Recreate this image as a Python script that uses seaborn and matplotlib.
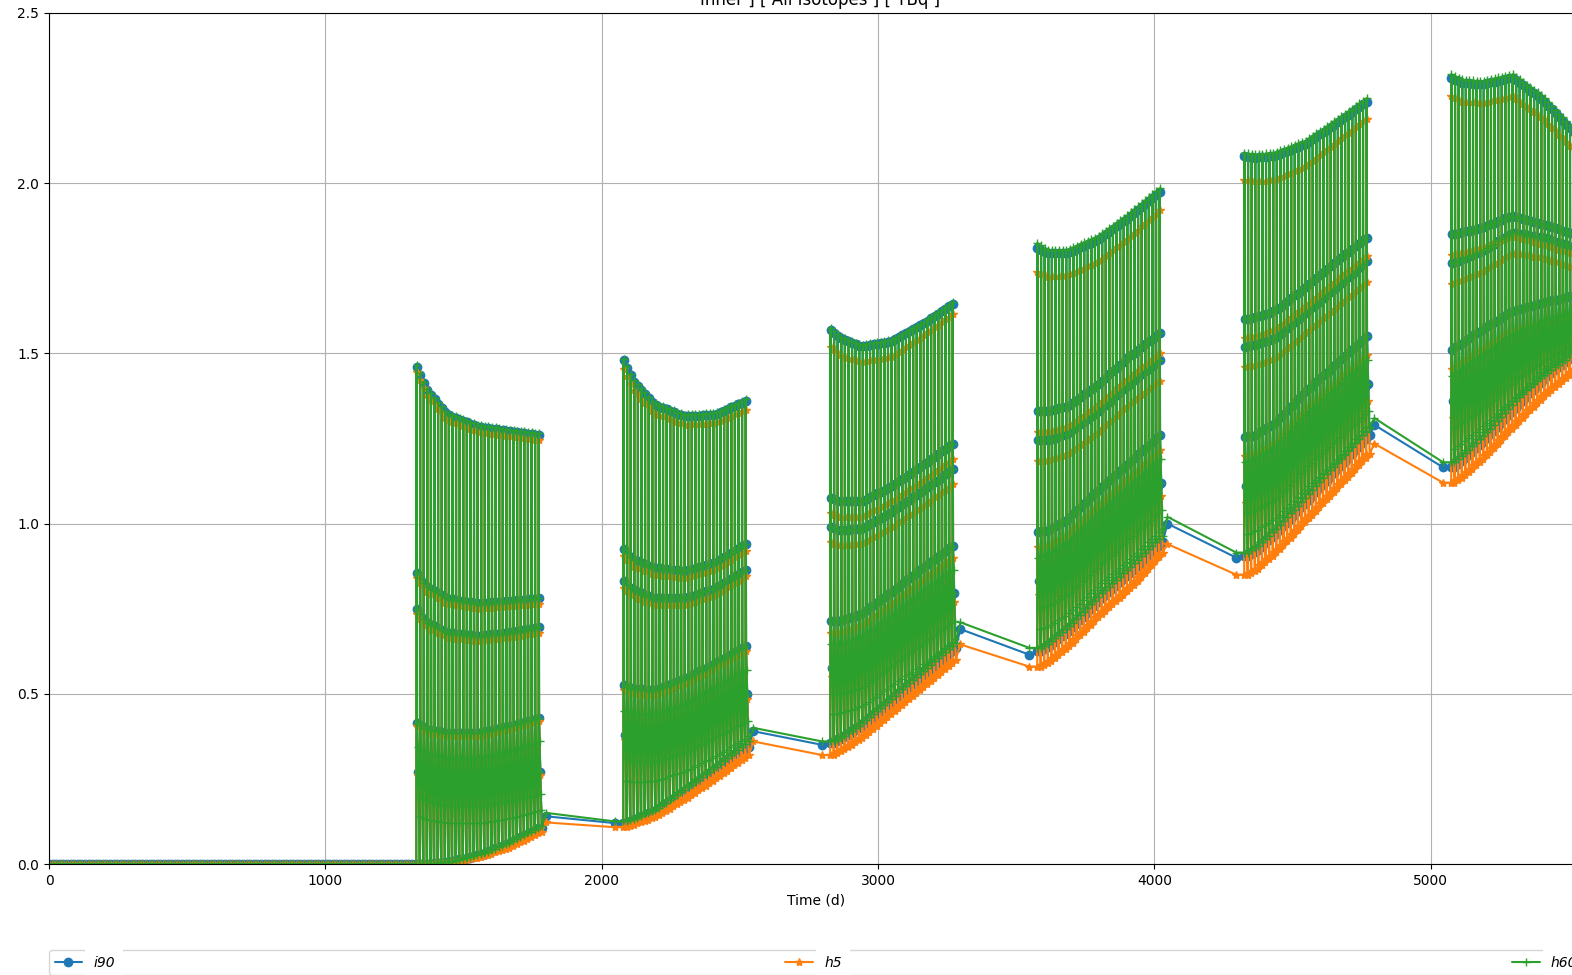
import numpy as np
import pandas as pd
import matplotlib
matplotlib.use("Agg")
import matplotlib.pyplot as plt
import seaborn as sns

# ---------------------------------------------------------------- data
series_names = ["i90", "h5", "h60"]
series_colors = ["#1f77b4", "#ff7f0e", "#2ca02c"]
series_markers = ["o", "*", "+"]

# quiet period before the first campaign: sampled every 13 d, all zero
quiet_days = list(range(0, 1320, 13))

# start day of each irradiation campaign
campaign_start = [1330, 2079, 2828, 3577, 4326, 5075]
pulses_per_campaign = 35
pulse_period = 13  # d
# day offsets inside one pulse: trough, peak, decay steps, trough
coarse_offsets = [-1, 0, 0.5, 1, 1.5, 6, 11]
fine_offsets = [-1, 0, 0.5, 1, 1.5, 3.5, 5.5, 7.5, 9.5, 11]
# fraction of a campaign at which the envelope values below are given
knot_pos = [0.0, 0.08, 0.25, 0.5, 0.75, 1.0]

# i90 envelopes, one row per campaign
i90_peak = [[1.46, 1.395, 1.32, 1.285, 1.272, 1.26],
            [1.48, 1.42, 1.35, 1.315, 1.32, 1.36],
            [1.57, 1.545, 1.52, 1.535, 1.585, 1.645],
            [1.81, 1.795, 1.795, 1.835, 1.90, 1.975],
            [2.08, 2.075, 2.08, 2.115, 2.175, 2.24],
            [2.31, 2.295, 2.29, 2.31, 2.245, 2.15]]
i90_step1 = [[0.855, 0.815, 0.78, 0.765, 0.772, 0.78],
             [0.925, 0.895, 0.87, 0.86, 0.885, 0.94],
             [1.075, 1.065, 1.065, 1.11, 1.17, 1.235],
             [1.33, 1.33, 1.345, 1.41, 1.49, 1.56],
             [1.60, 1.605, 1.625, 1.695, 1.77, 1.84],
             [1.85, 1.855, 1.87, 1.905, 1.88, 1.85]]
i90_step2 = [[0.75, 0.71, 0.68, 0.67, 0.68, 0.695],
             [0.83, 0.805, 0.78, 0.78, 0.81, 0.865],
             [0.99, 0.98, 0.985, 1.035, 1.095, 1.16],
             [1.245, 1.245, 1.265, 1.33, 1.41, 1.48],
             [1.52, 1.525, 1.545, 1.62, 1.695, 1.77],
             [1.765, 1.775, 1.80, 1.855, 1.84, 1.81]]
i90_step3 = [[0.415, 0.395, 0.385, 0.385, 0.405, 0.43],
             [0.525, 0.515, 0.51, 0.545, 0.59, 0.64],
             [0.715, 0.715, 0.735, 0.80, 0.87, 0.935],
             [0.975, 0.98, 1.015, 1.10, 1.18, 1.26],
             [1.255, 1.26, 1.295, 1.39, 1.47, 1.55],
             [1.51, 1.53, 1.57, 1.625, 1.65, 1.67]]
i90_step4 = [[0.27, 0.25, 0.235, 0.235, 0.25, 0.27],
             [0.38, 0.37, 0.37, 0.40, 0.45, 0.50],
             [0.575, 0.575, 0.595, 0.66, 0.73, 0.795],
             [0.83, 0.84, 0.875, 0.96, 1.04, 1.12],
             [1.11, 1.12, 1.155, 1.25, 1.33, 1.41],
             [1.36, 1.38, 1.42, 1.49, 1.54, 1.58]]
i90_trough = [[0.0, 0.0, 0.005, 0.025, 0.06, 0.105],
              [0.12, 0.13, 0.155, 0.215, 0.28, 0.345],
              [0.355, 0.37, 0.41, 0.485, 0.56, 0.635],
              [0.625, 0.64, 0.69, 0.78, 0.86, 0.945],
              [0.905, 0.92, 0.975, 1.07, 1.165, 1.26],
              [1.165, 1.19, 1.245, 1.34, 1.43, 1.50]]

# h5 envelopes
h5_peak = [[1.445, 1.38, 1.305, 1.27, 1.257, 1.245],
           [1.455, 1.395, 1.325, 1.29, 1.295, 1.335],
           [1.52, 1.495, 1.475, 1.49, 1.55, 1.615],
           [1.74, 1.725, 1.73, 1.77, 1.84, 1.92],
           [2.01, 2.005, 2.01, 2.05, 2.12, 2.19],
           [2.255, 2.24, 2.235, 2.255, 2.19, 2.10]]
h5_step1 = [[0.84, 0.80, 0.765, 0.75, 0.757, 0.765],
            [0.905, 0.875, 0.85, 0.84, 0.865, 0.92],
            [1.03, 1.02, 1.02, 1.065, 1.125, 1.19],
            [1.27, 1.27, 1.285, 1.35, 1.43, 1.50],
            [1.545, 1.55, 1.57, 1.64, 1.715, 1.785],
            [1.79, 1.795, 1.81, 1.845, 1.82, 1.79]]
h5_step2 = [[0.735, 0.695, 0.665, 0.655, 0.665, 0.68],
            [0.81, 0.785, 0.76, 0.76, 0.79, 0.845],
            [0.945, 0.935, 0.94, 0.99, 1.05, 1.115],
            [1.185, 1.185, 1.205, 1.27, 1.35, 1.42],
            [1.46, 1.465, 1.485, 1.56, 1.635, 1.71],
            [1.705, 1.715, 1.74, 1.795, 1.78, 1.75]]
h5_step3 = [[0.405, 0.385, 0.375, 0.375, 0.395, 0.42],
            [0.51, 0.50, 0.495, 0.53, 0.575, 0.625],
            [0.68, 0.68, 0.70, 0.765, 0.835, 0.90],
            [0.93, 0.935, 0.97, 1.055, 1.135, 1.215],
            [1.20, 1.205, 1.24, 1.335, 1.415, 1.495],
            [1.455, 1.475, 1.515, 1.57, 1.595, 1.615]]
h5_step4 = [[0.26, 0.24, 0.225, 0.225, 0.24, 0.26],
            [0.365, 0.355, 0.355, 0.385, 0.435, 0.485],
            [0.55, 0.55, 0.57, 0.635, 0.705, 0.77],
            [0.79, 0.80, 0.835, 0.92, 1.00, 1.08],
            [1.06, 1.07, 1.105, 1.20, 1.28, 1.36],
            [1.31, 1.33, 1.37, 1.44, 1.49, 1.53]]
h5_trough = [[0.0, 0.0, 0.004, 0.02, 0.05, 0.095],
             [0.108, 0.118, 0.14, 0.195, 0.255, 0.32],
             [0.32, 0.335, 0.375, 0.45, 0.525, 0.60],
             [0.58, 0.595, 0.645, 0.735, 0.815, 0.915],
             [0.85, 0.865, 0.92, 1.015, 1.11, 1.205],
             [1.12, 1.14, 1.195, 1.29, 1.38, 1.455]]

# h60 envelopes: upper decay steps coincide with i90, lower ones are finer
h60_peak = [[1.465, 1.40, 1.325, 1.29, 1.277, 1.265],
            [1.485, 1.425, 1.355, 1.32, 1.325, 1.365],
            [1.575, 1.55, 1.525, 1.54, 1.59, 1.65],
            [1.825, 1.805, 1.805, 1.845, 1.91, 1.985],
            [2.09, 2.085, 2.09, 2.125, 2.185, 2.25],
            [2.32, 2.305, 2.30, 2.32, 2.255, 2.16]]
h60_step4 = [[0.345, 0.325, 0.31, 0.31, 0.33, 0.36],
             [0.45, 0.44, 0.44, 0.47, 0.52, 0.57],
             [0.645, 0.645, 0.665, 0.73, 0.80, 0.865],
             [0.90, 0.91, 0.945, 1.03, 1.11, 1.19],
             [1.18, 1.19, 1.225, 1.32, 1.40, 1.48],
             [1.435, 1.455, 1.495, 1.555, 1.595, 1.625]]
h60_step5 = [[0.27, 0.25, 0.235, 0.235, 0.25, 0.27],
             [0.38, 0.37, 0.37, 0.40, 0.45, 0.50],
             [0.575, 0.575, 0.595, 0.66, 0.73, 0.795],
             [0.83, 0.84, 0.875, 0.96, 1.04, 1.12],
             [1.11, 1.12, 1.155, 1.25, 1.33, 1.41],
             [1.36, 1.38, 1.42, 1.49, 1.54, 1.58]]
h60_step6 = [[0.20, 0.185, 0.17, 0.17, 0.185, 0.205],
             [0.31, 0.30, 0.30, 0.33, 0.375, 0.42],
             [0.50, 0.50, 0.52, 0.585, 0.65, 0.715],
             [0.75, 0.76, 0.795, 0.88, 0.96, 1.04],
             [1.03, 1.04, 1.075, 1.17, 1.25, 1.33],
             [1.28, 1.30, 1.34, 1.42, 1.48, 1.53]]
h60_step7 = [[0.14, 0.13, 0.12, 0.12, 0.135, 0.16],
             [0.245, 0.24, 0.245, 0.275, 0.32, 0.375],
             [0.44, 0.445, 0.465, 0.53, 0.59, 0.66],
             [0.69, 0.70, 0.74, 0.825, 0.90, 0.985],
             [0.97, 0.98, 1.02, 1.11, 1.19, 1.28],
             [1.22, 1.24, 1.29, 1.37, 1.44, 1.505]]
h60_trough = [[0.0, 0.0, 0.006, 0.028, 0.065, 0.112],
              [0.125, 0.135, 0.162, 0.225, 0.29, 0.36],
              [0.36, 0.375, 0.418, 0.495, 0.572, 0.65],
              [0.635, 0.652, 0.703, 0.795, 0.878, 0.965],
              [0.915, 0.932, 0.99, 1.087, 1.185, 1.285],
              [1.18, 1.205, 1.262, 1.36, 1.45, 1.52]]

# cooling periods between campaigns: (day, value) pairs
cooling_days = [[1800, 2049], [2549, 2798], [3298, 3547], [4047, 4296], [4796, 5045]]
i90_cooling = [[0.14, 0.12], [0.39, 0.35], [0.69, 0.615], [1.00, 0.90], [1.29, 1.165]]
h5_cooling = [[0.122, 0.108], [0.36, 0.32], [0.645, 0.58], [0.94, 0.85], [1.235, 1.12]]
h60_cooling = [[0.15, 0.125], [0.40, 0.36], [0.71, 0.635], [1.02, 0.915], [1.31, 1.18]]

i90_steps = [i90_step1, i90_step2, i90_step3, i90_step4]
h5_steps = [h5_step1, h5_step2, h5_step3, h5_step4]
h60_steps = [i90_step1, i90_step2, i90_step3, h60_step4, h60_step5, h60_step6, h60_step7]


def build_series(peak, steps, trough, cooling, offsets):
    levels = [trough, peak] + steps + [trough]
    days = list(quiet_days)
    vals = [0.0] * len(quiet_days)
    for c, start in enumerate(campaign_start):
        for k in range(pulses_per_campaign):
            frac = k / (pulses_per_campaign - 1)
            d0 = start + k * pulse_period
            for off, lvl in zip(offsets, levels):
                days.append(d0 + off)
                vals.append(float(np.interp(frac, knot_pos, lvl[c])))
        if c < len(cooling):
            days.extend(cooling_days[c])
            vals.extend(cooling[c])
    return pd.DataFrame({"Time (d)": days, "TBq": vals})


frames = [
    build_series(i90_peak, i90_steps, i90_trough, i90_cooling, coarse_offsets),
    build_series(h5_peak, h5_steps, h5_trough, h5_cooling, coarse_offsets),
    build_series(h60_peak, h60_steps, h60_trough, h60_cooling, fine_offsets),
]

# ---------------------------------------------------------------- style
sns.set_style("ticks", rc={
    "axes.edgecolor": "black",
    "axes.grid": True,
    "grid.color": "#b0b0b0",
    "grid.linewidth": 0.8,
    "xtick.color": "black",
    "ytick.color": "black",
    "axes.labelcolor": "black",
    "text.color": "black",
})
plt.rcParams["font.family"] = ["DejaVu Sans"]
plt.rcParams["font.size"] = 10

fig = plt.figure(figsize=(15.72, 9.75), dpi=100)
ax = fig.add_axes([49 / 1572, 111 / 975, 1534 / 1572, 851 / 975])

for df, name, color, marker in zip(frames, series_names, series_colors, series_markers):
    sns.lineplot(data=df, x="Time (d)", y="TBq", ax=ax, color=color,
                 marker=marker, markersize=6, markeredgecolor=color,
                 markerfacecolor=color, markeredgewidth=1.0, linewidth=1.5,
                 sort=False, estimator=None, errorbar=None, label=name)

ax.set_xlim(0, 5551)
ax.set_ylim(0, 2.5)
ax.set_xlabel("Time (d)", fontsize=10)
ax.set_ylabel("")
ax.set_title("Inner ] [ All Isotopes ] [ TBq ]", fontsize=12, x=0.5026)
ax.tick_params(labelsize=10, length=3.5)

leg = ax.legend(loc="upper left", bbox_to_anchor=(0, -0.101, 1, 0), mode="expand",
                ncol=3, borderaxespad=0, prop={"style": "italic", "size": 10})
for txt in leg.get_texts():
    txt.set_bbox(dict(boxstyle="square,pad=0.6", facecolor="white", edgecolor="none"))

fig.savefig("out.png", dpi=100)
